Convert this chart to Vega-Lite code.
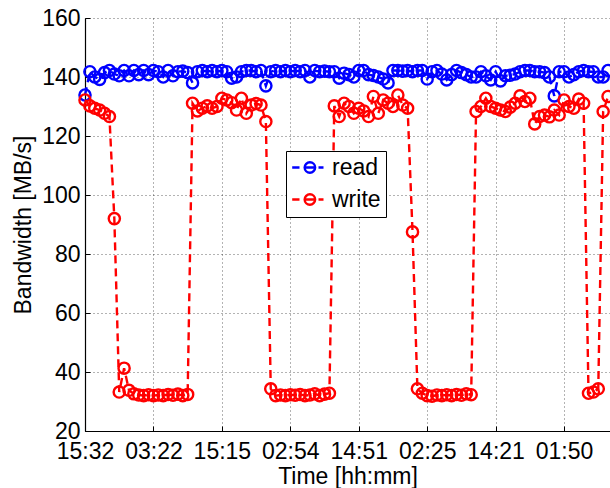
{
  "$schema": "https://vega.github.io/schema/vega-lite/v6.json",
  "width": 525,
  "height": 413,
  "autosize": {"type": "none"},
  "padding": {"left": 85, "top": 18, "right": 0, "bottom": 57},
  "background": "white",
  "config": {
    "view": {"stroke": null},
    "font": "Liberation Sans",
    "axis": {
      "labelFont": "Liberation Sans",
      "labelFontSize": 23,
      "labelColor": "#000000",
      "titleFont": "Liberation Sans",
      "titleFontSize": 23,
      "titleFontWeight": "normal",
      "titleColor": "#000000",
      "domainColor": "#000000",
      "domainWidth": 1.2,
      "tickColor": "#000000",
      "tickWidth": 1,
      "grid": true,
      "gridColor": "#000000",
      "gridOpacity": 0.6,
      "gridDash": [1, 3],
      "gridWidth": 1
    }
  },
  "data": {
    "values": [
      {"t": 0, "read": 133.9, "write": 132.2},
      {"t": 1, "read": 141.8, "write": 130.2},
      {"t": 2, "read": 140.0, "write": 129.4},
      {"t": 3, "read": 139.2, "write": 128.8},
      {"t": 4, "read": 141.5, "write": 127.7},
      {"t": 5, "read": 142.2, "write": 126.6},
      {"t": 6, "read": 141.0, "write": 92.0},
      {"t": 7, "read": 140.4, "write": 33.2},
      {"t": 8, "read": 142.2, "write": 41.3},
      {"t": 9, "read": 140.4, "write": 33.8},
      {"t": 10, "read": 142.2, "write": 32.6},
      {"t": 11, "read": 140.8, "write": 32.2},
      {"t": 12, "read": 142.2, "write": 32.0},
      {"t": 13, "read": 140.8, "write": 32.3},
      {"t": 14, "read": 142.2, "write": 32.0},
      {"t": 15, "read": 141.8, "write": 32.2},
      {"t": 16, "read": 140.0, "write": 32.0},
      {"t": 17, "read": 142.2, "write": 32.4},
      {"t": 18, "read": 140.4, "write": 32.1},
      {"t": 19, "read": 141.8, "write": 32.5},
      {"t": 20, "read": 142.0, "write": 32.0},
      {"t": 21, "read": 141.5, "write": 32.4},
      {"t": 22, "read": 138.0, "write": 131.1},
      {"t": 23, "read": 141.8, "write": 128.5},
      {"t": 24, "read": 142.2, "write": 129.4},
      {"t": 25, "read": 141.8, "write": 130.2},
      {"t": 26, "read": 142.2, "write": 129.4},
      {"t": 27, "read": 141.8, "write": 130.0},
      {"t": 28, "read": 142.2, "write": 132.8},
      {"t": 29, "read": 141.8, "write": 132.2},
      {"t": 30, "read": 139.6, "write": 131.3},
      {"t": 31, "read": 140.0, "write": 128.8},
      {"t": 32, "read": 141.8, "write": 132.8},
      {"t": 33, "read": 142.2, "write": 127.7},
      {"t": 34, "read": 142.2, "write": 130.5},
      {"t": 35, "read": 141.8, "write": 131.0},
      {"t": 36, "read": 142.2, "write": 130.5},
      {"t": 37, "read": 137.0, "write": 124.9},
      {"t": 38, "read": 141.8, "write": 34.3},
      {"t": 39, "read": 142.2, "write": 32.0},
      {"t": 40, "read": 141.8, "write": 32.2},
      {"t": 41, "read": 142.2, "write": 32.0},
      {"t": 42, "read": 141.8, "write": 32.3},
      {"t": 43, "read": 142.2, "write": 32.1},
      {"t": 44, "read": 141.8, "write": 32.4},
      {"t": 45, "read": 142.2, "write": 32.0},
      {"t": 46, "read": 140.0, "write": 32.2},
      {"t": 47, "read": 142.2, "write": 32.6},
      {"t": 48, "read": 141.8, "write": 32.0},
      {"t": 49, "read": 142.0, "write": 32.5},
      {"t": 50, "read": 141.8, "write": 32.8},
      {"t": 51, "read": 141.8, "write": 130.2},
      {"t": 52, "read": 139.6, "write": 126.6},
      {"t": 53, "read": 141.3, "write": 131.1},
      {"t": 54, "read": 140.8, "write": 130.0},
      {"t": 55, "read": 140.0, "write": 127.7},
      {"t": 56, "read": 142.2, "write": 129.4},
      {"t": 57, "read": 142.2, "write": 128.5},
      {"t": 58, "read": 140.8, "write": 126.6},
      {"t": 59, "read": 140.5, "write": 133.4},
      {"t": 60, "read": 140.0, "write": 127.7},
      {"t": 61, "read": 139.3, "write": 132.2},
      {"t": 62, "read": 138.0, "write": 131.1},
      {"t": 63, "read": 142.2, "write": 130.0},
      {"t": 64, "read": 142.2, "write": 133.9},
      {"t": 65, "read": 142.0, "write": 130.5},
      {"t": 66, "read": 142.2, "write": 129.4},
      {"t": 67, "read": 141.8, "write": 87.5},
      {"t": 68, "read": 142.2, "write": 34.3},
      {"t": 69, "read": 142.2, "write": 32.8},
      {"t": 70, "read": 139.3, "write": 32.0},
      {"t": 71, "read": 141.8, "write": 31.8},
      {"t": 72, "read": 142.2, "write": 32.2},
      {"t": 73, "read": 141.0, "write": 32.0},
      {"t": 74, "read": 139.0, "write": 32.3},
      {"t": 75, "read": 140.8, "write": 32.0},
      {"t": 76, "read": 142.2, "write": 32.4},
      {"t": 77, "read": 141.5, "write": 32.1},
      {"t": 78, "read": 140.8, "write": 32.6},
      {"t": 79, "read": 140.0, "write": 32.3},
      {"t": 80, "read": 140.0, "write": 128.3},
      {"t": 81, "read": 141.8, "write": 130.0},
      {"t": 82, "read": 140.4, "write": 132.8},
      {"t": 83, "read": 139.0, "write": 130.0},
      {"t": 84, "read": 141.8, "write": 129.4},
      {"t": 85, "read": 138.7, "write": 128.8},
      {"t": 86, "read": 140.4, "write": 128.3},
      {"t": 87, "read": 140.6, "write": 129.8},
      {"t": 88, "read": 141.0, "write": 131.1},
      {"t": 89, "read": 141.8, "write": 133.6},
      {"t": 90, "read": 142.2, "write": 131.7},
      {"t": 91, "read": 142.2, "write": 132.8},
      {"t": 92, "read": 141.8, "write": 124.1},
      {"t": 93, "read": 141.8, "write": 126.6},
      {"t": 94, "read": 141.5, "write": 127.1},
      {"t": 95, "read": 140.0, "write": 126.5},
      {"t": 96, "read": 133.6, "write": 128.8},
      {"t": 97, "read": 141.8, "write": 127.1},
      {"t": 98, "read": 141.8, "write": 132.2},
      {"t": 99, "read": 140.0, "write": 130.0},
      {"t": 100, "read": 140.8, "write": 129.4},
      {"t": 101, "read": 141.8, "write": 132.5},
      {"t": 102, "read": 142.2, "write": 131.1},
      {"t": 103, "read": 141.8, "write": 32.8},
      {"t": 104, "read": 141.8, "write": 33.2},
      {"t": 105, "read": 140.0, "write": 34.3},
      {"t": 106, "read": 140.0, "write": 128.3},
      {"t": 107, "read": 142.2, "write": 133.4}
    ]
  },
  "transform": [{"fold": ["read", "write"], "as": ["series", "bw"]}],
  "encoding": {
    "x": {
      "field": "t",
      "type": "quantitative",
      "scale": {"domain": [0, 107.4], "nice": false, "zero": false},
      "axis": {
        "title": "Time [hh:mm]",
        "values": [0, 14, 28, 42, 56, 70, 84, 98],
        "labelExpr": "['15:32','03:22','15:15','02:54','14:51','02:25','14:21','01:50'][round(datum.value / 14)]",
        "labelFlush": false,
        "labelOverlap": false,
        "tickSize": -5,
        "labelPadding": 14,
        "titlePadding": 2
      }
    },
    "y": {
      "field": "bw",
      "type": "quantitative",
      "scale": {"domain": [20, 160], "nice": false, "zero": false},
      "axis": {
        "title": "Bandwidth [MB/s]",
        "values": [20, 40, 60, 80, 100, 120, 140, 160],
        "tickSize": -5,
        "labelPadding": 10,
        "titlePadding": 6
      }
    },
    "color": {
      "field": "series",
      "type": "nominal",
      "scale": {"domain": ["read", "write"], "range": ["#0000ff", "#ff0000"]},
      "legend": {
        "title": null,
        "orient": "none",
        "legendX": 201,
        "legendY": 133,
        "symbolType": "M-1.03,0H-0.3M0.215,0A0.525,0.525,0,1,1,1.265,0A0.525,0.525,0,1,1,0.215,0M0.215,0H1.265M1.6,0H2.1",
        "symbolSize": 400,
        "symbolStrokeWidth": 2.4,
        "symbolFillColor": "transparent",
        "symbolDash": [],
        "labelFont": "Liberation Sans",
        "labelFontSize": 23,
        "labelColor": "#000000",
        "labelOffset": 18,
        "padding": 5,
        "rowPadding": 8,
        "strokeColor": "#000000",
        "fillColor": "#ffffff",
        "symbolOpacity": 1,
        "encode": {
          "symbols": {
            "update": {
              "strokeDash": {"value": []},
              "fill": {"value": "transparent"},
              "shape": {"value": "M-1.03,0H-0.3M0.215,0A0.525,0.525,0,1,1,1.265,0A0.525,0.525,0,1,1,0.215,0M0.215,0H1.265M1.6,0H2.1"}
            }
          }
        }
      }
    }
  },
  "layer": [
    {
      "transform": [{"filter": "datum.series === 'read'"}],
      "mark": {"type": "line", "strokeWidth": 2.4, "strokeDash": [8, 5]}
    },
    {
      "transform": [{"filter": "datum.series === 'read'"}],
      "mark": {"type": "point", "filled": false, "size": 125, "strokeWidth": 2.4, "opacity": 1}
    },
    {
      "transform": [{"filter": "datum.series === 'write'"}],
      "mark": {"type": "line", "strokeWidth": 2.4, "strokeDash": [8, 5]}
    },
    {
      "transform": [{"filter": "datum.series === 'write'"}],
      "mark": {"type": "point", "filled": false, "size": 125, "strokeWidth": 2.4, "opacity": 1}
    }
  ]
}
